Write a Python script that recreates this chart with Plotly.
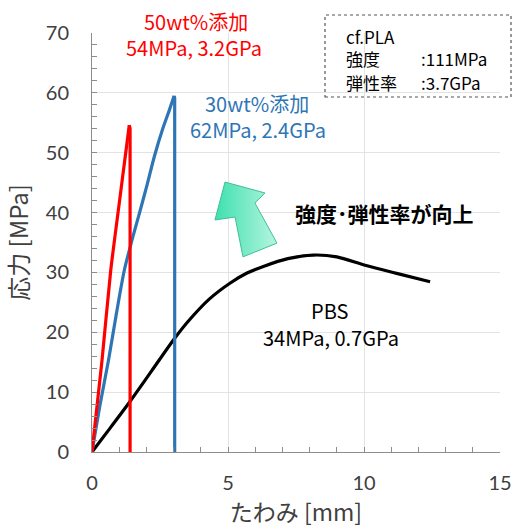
import plotly.graph_objects as go

# ---- data ----
red_x = [0, 0.37, 0.69, 1.0, 1.24, 1.37]
red_y = [0, 15.4, 30.4, 41.5, 50.0, 54.6]
red_break_x = [1.40, 1.40]
red_break_y = [54.0, 0]

blue_x = [0, 0.3, 0.61, 0.9, 1.19, 1.5, 1.75, 2.0, 2.3, 2.6, 2.85, 3.02]
blue_y = [0, 8.0, 15.4, 23.2, 30.4, 35.9, 40.0, 44.2, 49.5, 54.0, 57.2, 59.5]
blue_break_x = [3.04, 3.04]
blue_break_y = [59.2, 0]

pbs_x = [0, 0.7, 1.39, 2.2, 3.04, 3.53, 4.3, 5.07, 5.7, 6.3, 7.2, 8.14, 9.0, 10.04, 11.2, 12.43]
pbs_y = [0, 4.2, 8.4, 13.6, 19.0, 21.8, 25.5, 28.2, 29.9, 31.0, 32.3, 32.9, 32.6, 31.2, 29.85, 28.45]

x_ticks = [0, 5, 10, 15]
y_ticks = [0, 10, 20, 30, 40, 50, 60, 70]

# decorative arrow outline (data coords)
arrow_x = [4.89, 6.36, 5.99, 6.80, 5.55, 5.26, 4.52, 4.89]
arrow_y = [45.1, 43.27, 41.6, 34.9, 32.6, 39.26, 38.76, 45.1]

JP = "Noto Sans CJK JP"
TICKF = "Lato"
W, H = 517, 530
ML, MR, MT, MB = 92, 17, 33, 78
PW, PH = W - ML - MR, H - MT - MB


def px(x):
    return (x - ML) / PW


def py(y):
    return (H - MB - y) / PH


fig = go.Figure()

fig.add_trace(go.Scatter(x=arrow_x, y=arrow_y, mode="lines", fill="toself",
                         line=dict(color="#3fbf98", width=1),
                         fillgradient=dict(type="horizontal",
                                           colorscale=[[0, "#3ee0ae"], [1, "#b5f5df"]]),
                         hoverinfo="skip", showlegend=False))

fig.add_trace(go.Scatter(x=pbs_x, y=pbs_y, mode="lines",
                         line=dict(color="black", width=3.2, shape="spline", smoothing=0.8),
                         showlegend=False))
fig.add_trace(go.Scatter(x=blue_x, y=blue_y, mode="lines",
                         line=dict(color="#2e75b6", width=3.2, shape="spline", smoothing=0.8),
                         showlegend=False))
fig.add_trace(go.Scatter(x=[blue_x[-1]] + blue_break_x, y=[blue_y[-1]] + blue_break_y, mode="lines",
                         line=dict(color="#2e75b6", width=3.2), showlegend=False))
fig.add_trace(go.Scatter(x=red_x, y=red_y, mode="lines",
                         line=dict(color="#ff0000", width=3.2, shape="spline", smoothing=0.6),
                         showlegend=False))
fig.add_trace(go.Scatter(x=[red_x[-1]] + red_break_x, y=[red_y[-1]] + red_break_y, mode="lines",
                         line=dict(color="#ff0000", width=3.2), showlegend=False))

annos = [
    dict(x=196, y=21, text="50wt%添加", color="#ff0000", size=20),
    dict(x=194, y=47, text="54MPa, 3.2GPa", color="#ff0000", size=20),
    dict(x=257, y=104, text="30wt%添加", color="#2e75b6", size=20),
    dict(x=258, y=129, text="62MPa, 2.4GPa", color="#2e75b6", size=20),
    dict(x=384, y=213, text="<b>強度･弾性率が向上</b>", color="black", size=21),
    dict(x=330, y=310, text="PBS", color="black", size=20),
    dict(x=331, y=337, text="34MPa, 0.7GPa", color="black", size=20),
]
for a in annos:
    fig.add_annotation(x=px(a["x"]), y=py(a["y"]), xref="paper", yref="paper",
                       text=a["text"], showarrow=False, xanchor="center", yanchor="middle",
                       font=dict(family=JP, size=a["size"], color=a["color"]))

# PLA reference box
fig.add_shape(type="rect", xref="paper", yref="paper",
              x0=px(325), x1=px(511), y0=py(97), y1=py(15),
              line=dict(color="#555555", width=1.2, dash="dot"), layer="above")
box_rows = [("cf.PLA", None, 37), ("強度", ":111MPa", 59), ("弾性率", ":3.7GPa", 82)]
for left, right, yy in box_rows:
    fig.add_annotation(x=px(344), y=py(yy), xref="paper", yref="paper", text=left,
                       showarrow=False, xanchor="left", yanchor="middle",
                       font=dict(family=JP, size=17, color="black"))
    if right:
        fig.add_annotation(x=px(419), y=py(yy), xref="paper", yref="paper", text=right,
                           showarrow=False, xanchor="left", yanchor="middle",
                           font=dict(family=JP, size=17, color="black"))

axis_common = dict(
    showline=True, linecolor="#8c8c8c", linewidth=1,
    showgrid=True, gridcolor="#e3e3e3", gridwidth=1,
    ticks="inside", ticklen=5, tickcolor="#8c8c8c",
    tickfont=dict(family=TICKF, size=20, color="#404040"),
    zeroline=False, automargin=False,
)

fig.update_xaxes(range=[0, 15], tickvals=x_ticks, ticklabelstandoff=13,
                 minor=dict(dtick=1, ticks="inside", ticklen=5, tickcolor="#8c8c8c", showgrid=False),
                 title=dict(text="たわみ [mm]", font=dict(family=JP, size=23, color="#404040"), standoff=8),
                 **axis_common)
fig.update_yaxes(range=[0, 70], tickvals=y_ticks, ticklabelstandoff=18,
                 minor=dict(dtick=2, ticks="inside", ticklen=5, tickcolor="#8c8c8c", showgrid=False),
                 title=dict(text="応力 [MPa]", font=dict(family=JP, size=24, color="#404040"), standoff=10),
                 **axis_common)

fig.update_layout(width=W, height=H, margin=dict(l=ML, r=MR, t=MT, b=MB),
                  plot_bgcolor="white", paper_bgcolor="white", showlegend=False)

fig.write_html("out.html", config=dict(displayModeBar=False),
               post_script="document.body.style.margin='0';document.body.style.overflow='hidden';")
